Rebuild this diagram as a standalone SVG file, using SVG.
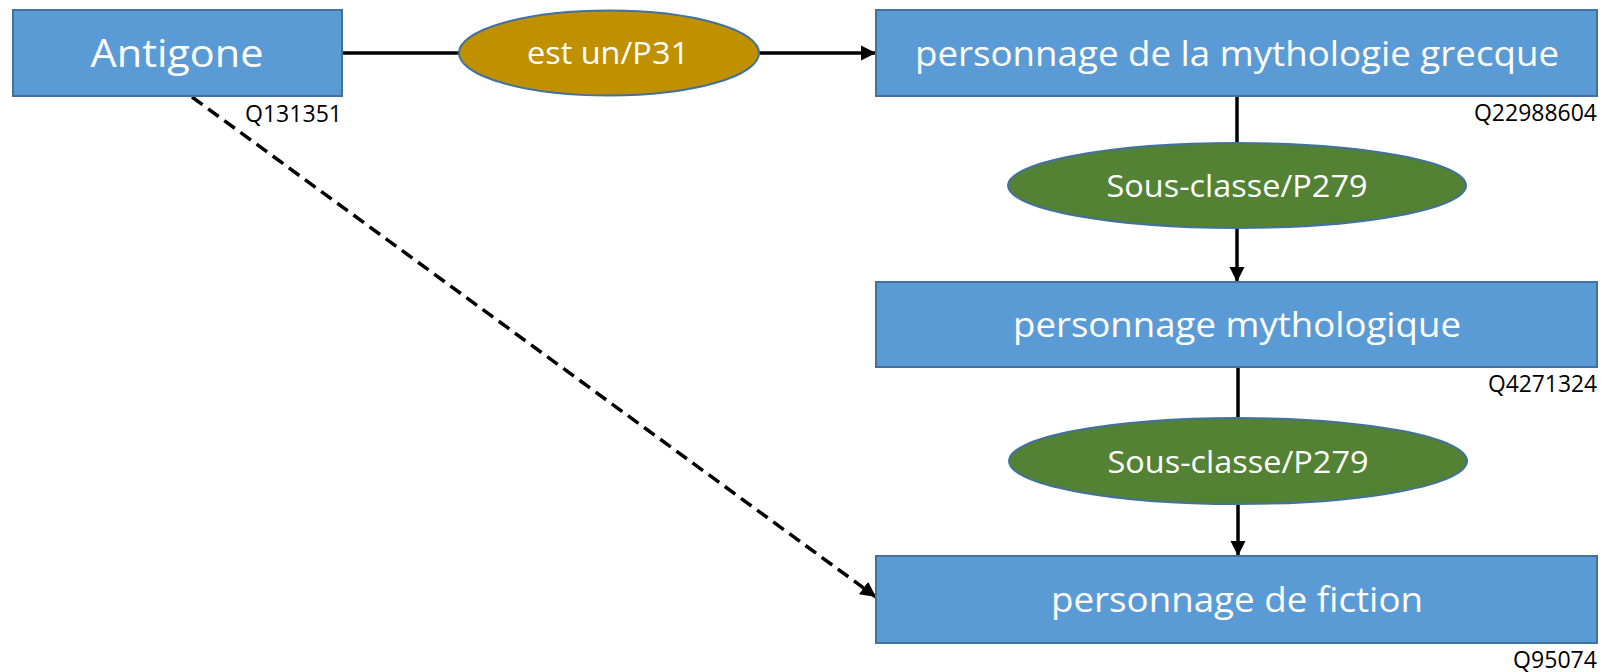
<svg xmlns="http://www.w3.org/2000/svg" width="1602" height="672" viewBox="0 0 1602 672">
<style>
.box{fill:#5B9BD5;stroke:#41719C;stroke-width:2}
.rel1{fill:#BF9000;stroke:#41719C;stroke-width:2}
.rel2{fill:#548235;stroke:#41719C;stroke-width:2}
.t{font-family:"Open Sans","Noto Sans",sans-serif;fill:#fff;text-anchor:middle}
.q{font-family:"Open Sans","Noto Sans",sans-serif;fill:#000;text-anchor:end;font-size:23.5px}
.c{stroke:#000;stroke-width:3.5;fill:none}
</style>
<defs>
<marker id="ah" viewBox="0 0 10 10" refX="10" refY="5" markerWidth="4.4" markerHeight="4.6" orient="auto" markerUnits="strokeWidth">
<path d="M0,0 L10,5 L0,10 z" fill="#000"/>
</marker>
</defs>
<rect width="1602" height="672" fill="#fff"/>
<g id="connectors">
<line class="c" x1="342" y1="53" x2="459" y2="53"/>
<line class="c" x1="759" y1="53" x2="876" y2="53" marker-end="url(#ah)"/>
<line class="c" x1="1237" y1="96" x2="1237" y2="143"/>
<line class="c" x1="1237" y1="228" x2="1237" y2="282" marker-end="url(#ah)"/>
<line class="c" x1="1238" y1="367" x2="1238" y2="418"/>
<line class="c" x1="1238" y1="504" x2="1238" y2="556" marker-end="url(#ah)"/>
<line class="c" x1="192" y1="97" x2="876" y2="597" stroke-dasharray="13,7" marker-end="url(#ah)"/>
</g>
<g id="antigone">
<rect class="box" x="13" y="10" width="329" height="86"/>
<text class="t" x="177" y="67" font-size="39" textLength="173" lengthAdjust="spacingAndGlyphs">Antigone</text>
<text class="q" x="342" y="122" textLength="97" lengthAdjust="spacingAndGlyphs">Q131351</text>
</g>
<g id="rel-est-un">
<ellipse class="rel1" cx="609" cy="53" rx="150" ry="42.5"/>
<text class="t" x="608" y="64" font-size="31" textLength="162" lengthAdjust="spacingAndGlyphs">est un/P31</text>
</g>
<g id="mytho-grecque">
<rect class="box" x="876" y="10" width="721" height="86"/>
<text class="t" x="1237" y="66" font-size="35" textLength="644" lengthAdjust="spacingAndGlyphs">personnage de la mythologie grecque</text>
<text class="q" x="1597" y="121" textLength="123" lengthAdjust="spacingAndGlyphs">Q22988604</text>
</g>
<g id="rel-sous-classe-1">
<ellipse class="rel2" cx="1237" cy="185.5" rx="229" ry="42.5"/>
<text class="t" x="1237" y="197" font-size="31" textLength="261" lengthAdjust="spacingAndGlyphs">Sous-classe/P279</text>
</g>
<g id="mythologique">
<rect class="box" x="876" y="282" width="721" height="85"/>
<text class="t" x="1237" y="337" font-size="35" textLength="448" lengthAdjust="spacingAndGlyphs">personnage mythologique</text>
<text class="q" x="1597" y="392" textLength="109" lengthAdjust="spacingAndGlyphs">Q4271324</text>
</g>
<g id="rel-sous-classe-2">
<ellipse class="rel2" cx="1238" cy="461" rx="229" ry="43"/>
<text class="t" x="1238" y="473" font-size="31" textLength="261" lengthAdjust="spacingAndGlyphs">Sous-classe/P279</text>
</g>
<g id="fiction">
<rect class="box" x="876" y="556" width="721" height="87"/>
<text class="t" x="1237" y="612" font-size="35" textLength="372" lengthAdjust="spacingAndGlyphs">personnage de fiction</text>
<text class="q" x="1597" y="668" textLength="84" lengthAdjust="spacingAndGlyphs">Q95074</text>
</g>
</svg>
